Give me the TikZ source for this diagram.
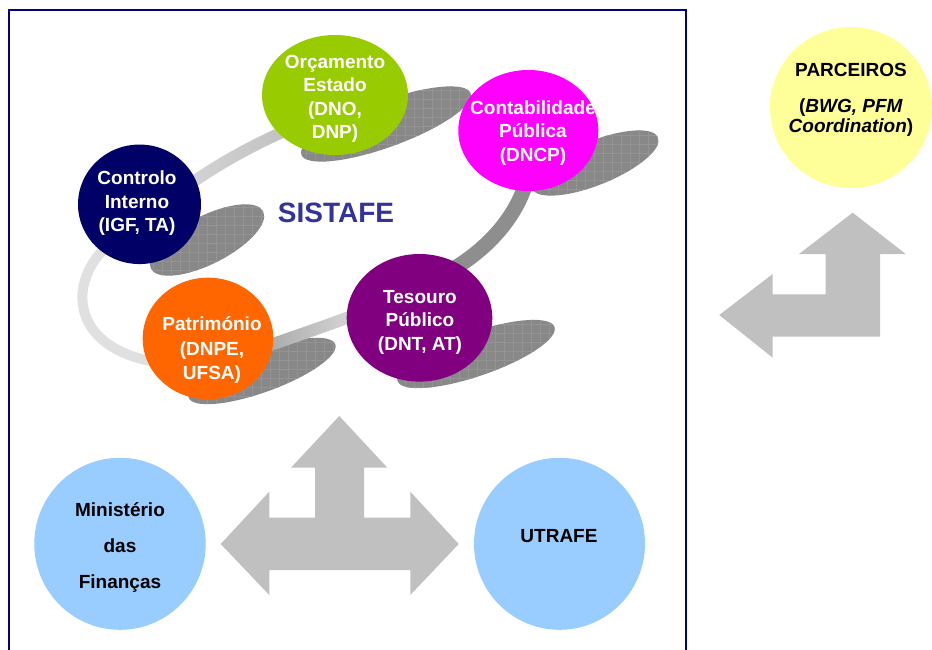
\documentclass[tikz,border=0pt]{standalone}
\usepackage{fontspec}
\setmainfont{Liberation Sans}
\usetikzlibrary{shapes.geometric}
\definecolor{framecol}{HTML}{000080}
\definecolor{cgreen}{HTML}{99CC00}
\definecolor{cpink}{HTML}{FF00FF}
\definecolor{cnavy}{HTML}{000066}
\definecolor{corange}{HTML}{FF6600}
\definecolor{cpurple}{HTML}{800080}
\definecolor{cblue}{HTML}{99CCFF}
\definecolor{cyellow}{HTML}{FFFF99}
\definecolor{carrow}{HTML}{C0C0C0}
\definecolor{csist}{HTML}{333399}
\definecolor{cshadow}{HTML}{888888}
\definecolor{cgrid}{HTML}{949494}
\definecolor{bandAa}{HTML}{D6D6D6}
\definecolor{bandAb}{HTML}{BDBDBD}
\definecolor{bandB}{HTML}{E0E0E0}
\definecolor{bandCa}{HTML}{A6A6A6}
\definecolor{bandCb}{HTML}{D6D6D6}
\definecolor{bandD}{HTML}{8E8E8E}
% #1 angle, #2 cx, #3 cy, #4 semi-major, #5 semi-minor
\newcommand{\myshadowblob}[5]{%
  \begin{scope}
    \path[clip, rotate around={#1:(#2,#3)}] (#2,#3) ellipse (#4pt and #5pt);
    \fill[cshadow] (#2-100,#3-100) rectangle (#2+100,#3+100);
    \draw[cgrid, line width=0.5pt, step=9pt] (#2-100,#3-100) grid (#2+100,#3+100);
  \end{scope}}
\begin{document}
\begin{tikzpicture}[x=1pt,y=-1pt,
  blob/.style={ellipse, inner sep=0pt, draw=none},
  wtxt/.style={text=white, align=center, inner sep=0pt, font=\bfseries\fontsize{19}{23.5}\selectfont},
  btxt/.style={text=black, align=center, inner sep=0pt, font=\bfseries\fontsize{19}{23.5}\selectfont},
  bigarrow/.style={fill=carrow, draw=none},
  bandline/.style={line cap=butt},
]
\useasboundingbox (0,0) rectangle (932,650);
\fill[white] (0,0) rectangle (932,650);

% frame
\draw[framecol, line width=2.5pt] (9,655) -- (9,10) -- (686,10) -- (686,655);

% shadows
\myshadowblob{27}{207}{240}{63}{24}
\myshadowblob{20}{386}{124}{90}{23}
\myshadowblob{22}{595}{163}{68}{22}
\myshadowblob{20}{262}{371}{78}{21}
\myshadowblob{19}{476}{354}{83}{22}

% loop bands
\shade[left color=bandAa, right color=bandAb] (172,190) .. controls (212,160) and (252,138) .. (307,115) -- (313,125) .. controls (258,148) and (218,170) .. (178,200) -- cycle;
\draw[bandline, line width=10pt, bandB] (118,238) .. controls (70,268) and (60,345) .. (155,362);
\shade[left color=bandCa, right color=bandCb] (260,342.3) .. controls (288,332.3) and (318,322.3) .. (350,310.3) -- (354,321.7) .. controls (322,333.7) and (292,343.7) .. (264,353.7) -- cycle;
\draw[bandline, line width=15pt, bandD] (526,183) .. controls (516,215) and (492,245) .. (455,268);

% circles
\node[blob, fill=cgreen, minimum width=146pt, minimum height=120pt] (orc) at (335,95) {};
\node[blob, fill=cnavy, minimum width=123pt, minimum height=119.5pt] (ctrl) at (139.5,204.3) {};
\node[blob, fill=cpink, minimum width=140pt, minimum height=121pt] (cont) at (528.3,130.5) {};
\node[blob, fill=corange, minimum width=130.6pt, minimum height=121.6pt] (patr) at (208,338.5) {};
\node[blob, fill=cpurple, minimum width=145.6pt, minimum height=127.6pt] (teso) at (419.5,317.8) {};
\node[blob, fill=cblue, minimum width=171.4pt, minimum height=172pt] (mf) at (120,543.8) {};
\node[blob, fill=cblue, minimum width=171pt, minimum height=172pt] (utr) at (559.5,543.8) {};
\node[blob, fill=cyellow, minimum width=162pt, minimum height=161pt] (parc) at (851,107.5) {};

% texts
\node[wtxt] (torc) at (335,99) {Orçamento\\Estado\\(DNO,\\DNP)};
\node[wtxt] (tctrl) at (137,203.5) {Controlo\\Interno\\(IGF, TA)};
\node[wtxt] (tcont) at (533,133) {Contabilidade\\Pública\\(DNCP)};
\node[wtxt, font=\bfseries\fontsize{19}{24.5}\selectfont] (tpatr) at (212,350.5) {Património\\(DNPE,\\UFSA)};
\node[wtxt] (tteso) at (420,322) {Tesouro\\Público\\(DNT, AT)};
\node[inner sep=0pt, text=csist, font=\bfseries\fontsize{28}{30}\selectfont] (sist) at (336,213) {SISTAFE};
\node[btxt, font=\bfseries\fontsize{19}{36}\selectfont] (tmf) at (120,547) {Ministério\\das\\Finanças};
\node[btxt] (tutr) at (559,536) {UTRAFE};
\node[btxt] (tparc) at (851,70) {PARCEIROS};
\node[btxt, font=\bfseries\fontsize{19}{19.5}\selectfont] (tbwg) at (851,117.5) {(\textit{BWG, PFM}\\\textit{Coordination})};

% three-way block arrow
\fill[bigarrow] (339.3,416) -- (387.3,467.7) -- (364,467.7) -- (364,517.7) -- (410.3,517.7) -- (410.3,491.7) -- (458.7,544) -- (410.3,595) -- (410.3,570) -- (269.3,570) -- (269.3,595) -- (220.7,544) -- (269.3,491.7) -- (269.3,517.7) -- (315,517.7) -- (315,467.7) -- (291,467.7) -- cycle;

% L-shaped block arrow
\fill[bigarrow] (852.7,212.7) -- (905.7,254) -- (880,254) -- (880,336.7) -- (772.7,336.7) -- (772.7,357.7) -- (719.3,315) -- (772.7,274) -- (772.7,294.3) -- (825.7,294.3) -- (825.7,254) -- (799,254) -- cycle;
\end{tikzpicture}
\end{document}
